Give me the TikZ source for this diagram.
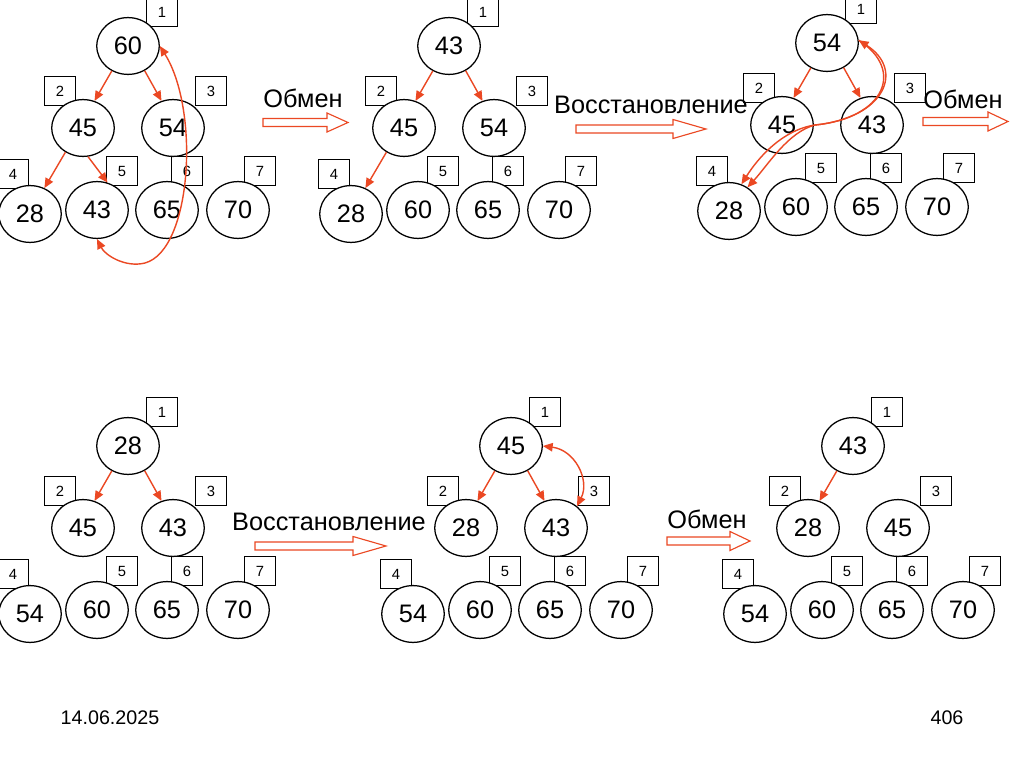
\documentclass[tikz,border=0pt]{standalone}
\usepackage{fontspec}
\setmainfont{Liberation Sans}
\usetikzlibrary{shapes.geometric, arrows.meta}
\definecolor{myred}{RGB}{235,72,35}
\tikzset{
  keynode/.style={ellipse, draw, fill=white, line width=0.9pt,
    minimum width=1.56cm, minimum height=1.42cm, inner sep=0pt,
    font=\fontsize{18}{21}\selectfont},
  tagbox/.style={rectangle, draw, line width=0.6pt,
    minimum width=0.76cm, minimum height=0.72cm, inner sep=0pt,
    font=\fontsize{10.5}{12}\selectfont},
  caption/.style={font=\fontsize{18}{21}\selectfont, inner sep=0pt},
  footer/.style={font=\fontsize{14}{16}\selectfont, inner sep=0pt},
  redarrow/.style={-{Triangle[length=7pt,width=6pt]}, line width=1pt, color=myred},
  bothways/.style={{Triangle[length=7pt,width=6pt]}-{Triangle[length=7pt,width=6pt]},
    line width=1pt, color=myred},
  hollow/.style={draw=myred, fill=white, line width=0.8pt},
  % places of the keys in a tree
  slot1/.style={shift={(0,0)}},
  slot2/.style={shift={(-45,82)}},
  slot3/.style={shift={(45,82)}},
  slot4/.style={shift={(-98,168)}},
  slot5/.style={shift={(-31,164)}},
  slot6/.style={shift={(39,164)}},
  slot7/.style={shift={(110,164)}},
  % places of the index boxes
  tag1/.style={shift={(34,-34)}},
  tag2/.style={shift={(-68,45)}},
  tag3/.style={shift={(83,45)}},
  tag4/.style={shift={(-115,128)}},
  tag5/.style={shift={(-6,125)}},
  tag6/.style={shift={(59,125)}},
  tag7/.style={shift={(132,125)}}
}
% #1 prefix, #2 #3 root position, #4 keys
\newcommand{\heaptree}[4]{%
  \begin{scope}[shift={(#2,#3)}]
    \foreach \v [count=\i] in {#4}
      \node[tagbox, tag\i] (#1t\i) at (0,0) {\i};
    \foreach \v [count=\i] in {#4}
      \node[keynode, slot\i] (#1\i) at (0,0) {\v};
  \end{scope}}
% #1 #2 tail, #3 length, #4 head length
\newcommand{\hollowarrow}[4]{%
  \draw[hollow] (#1,#2) ++(0,-4) -- ++({#3-#4},0) -- ++(0,-5.5) -- ++(#4,9.5)
    -- ++(-#4,9.5) -- ++(0,-5.5) -- ++({#4-#3},0) -- cycle;}

\begin{document}
\begin{tikzpicture}[x=0.025cm, y=-0.025cm]
  \useasboundingbox (0,0) rectangle (1024,767);
  \fill[white] (0,0) rectangle (1024,767);

  % top row
  \heaptree{a}{128}{46}{60,45,54,28,43,65,70}
  \heaptree{b}{449}{46}{43,45,54,28,60,65,70}
  \heaptree{c}{827}{43}{54,45,43,28,60,65,70}

  % bottom row
  \heaptree{d}{128}{446}{28,45,43,54,60,65,70}
  \heaptree{e}{511}{446}{45,28,43,54,60,65,70}
  \heaptree{f}{853}{446}{43,28,45,54,60,65,70}

  % steps
  \node[caption] (swap1) at (303,98) {Обмен};
  \hollowarrow{263}{122.5}{85}{21}
  \node[caption] (fix1) at (651,105) {Восстановление};
  \hollowarrow{576}{129}{130}{33}
  \node[caption] (swap2) at (963,99) {Обмен};
  \hollowarrow{923}{121.5}{85}{20}
  \node[caption] (fix2) at (329,522) {Восстановление};
  \hollowarrow{255}{546}{131}{33}
  \node[caption] (swap3) at (707,519) {Обмен};
  \hollowarrow{667}{541}{83}{20}

  % comparisons
  \draw[redarrow] (a1.237) -- (a2.67);
  \draw[redarrow] (a1.304) -- (a3.113);
  \draw[redarrow] (a2.234) -- (a4.61);
  \draw[redarrow] (a2.280) -- (a5.69);
  \draw[bothways] (a1.0) .. controls (200,110) and (192,250) .. (145,263)
    .. controls (125,268) and (105,255) .. (a5.270);

  \draw[redarrow] (b1.237) -- (b2.67);
  \draw[redarrow] (b1.304) -- (b3.113);
  \draw[redarrow] (b2.234) -- (b4.61);

  \draw[redarrow] (c1.237) -- (c2.67);
  \draw[redarrow] (c1.304) -- (c3.113);
  \draw[bothways] (c1.5) .. controls (905,70) and (885,118) .. (815,125)
    .. controls (782,130) and (758,158) .. (c4.65);
  \draw[redarrow] (c1.5) .. controls (905,70) and (885,118) .. (815,125)
    .. controls (788,132) and (768,165) .. (c4.52);

  \draw[redarrow] (d1.237) -- (d2.67);
  \draw[redarrow] (d1.304) -- (d3.113);

  \draw[redarrow] (e1.237) -- (e2.67);
  \draw[redarrow] (e1.304) -- (e3.113);
  \draw[bothways] (e1.0) .. controls (575,450) and (590,480) .. (e3.46);

  \draw[redarrow] (f1.237) -- (f2.67);

  % footer
  \node[footer] (date) at (110,718) {14.06.2025};
  \node[footer] (page) at (947,718) {406};
\end{tikzpicture}
\end{document}
